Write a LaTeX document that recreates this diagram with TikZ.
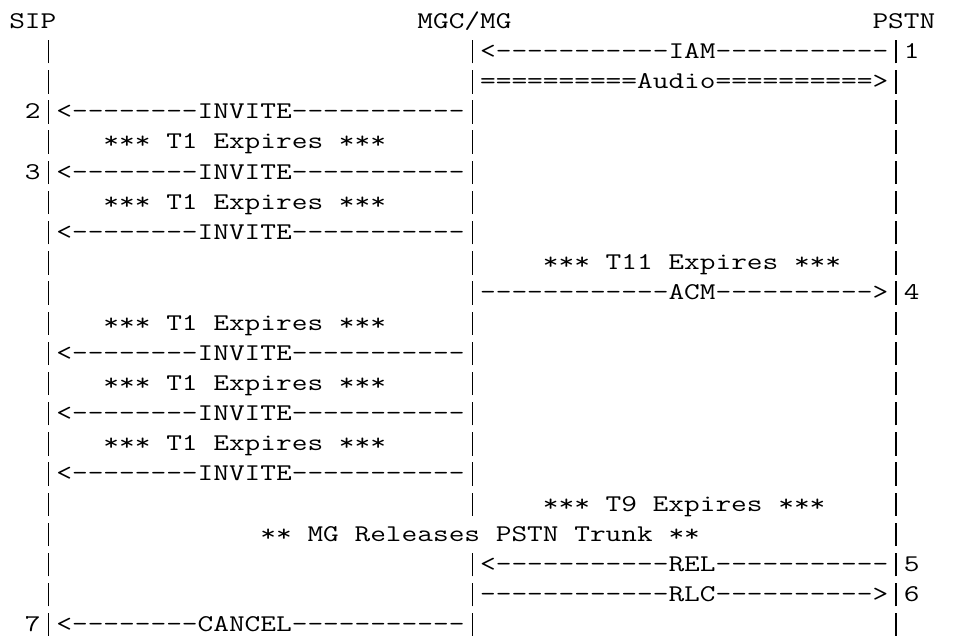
\documentclass[tikz,border=0pt]{standalone}
\usepackage{fontspec}
\setmonofont{Latin Modern Mono}
\usepackage{graphicx}
\newcommand\SP[1]{\hskip#1\fontdimen2\font\relax}
\newcommand\VB{\makebox[\fontdimen2\font]{\rule[-2.45pt]{0.5pt}{11.7pt}}}
\newcommand\rowtext[1]{\scalebox{1.26984}[1]{#1}}
\tikzset{
  row/.style={anchor=base west, inner sep=0pt, outer sep=0pt,
    font=\ttfamily\fontsize{12pt}{12pt}\selectfont, text=black}
}
\newcommand\rowat[3]{\node[row] (#1) at (9.3,{28.3+30.17*(#2-1)}) {\rowtext{#3}};}
\begin{document}
\begin{tikzpicture}[x=0.5pt,y=-0.5pt]
\fill[white] (0,0) rectangle (957,636);
\useasboundingbox (0,0) rectangle (957,636);
\rowat{l1}{1}{SIP\SP{23}MGC/MG\SP{23}PSTN}
\rowat{l2}{2}{\SP{2}\VB\SP{26}\VB<-----------IAM-----------\VB 1}
\rowat{l3}{3}{\SP{2}\VB\SP{26}\VB==========Audio==========>\VB}
\rowat{l4}{4}{\SP{1}2\VB<--------INVITE-----------\VB\SP{26}\VB}
\rowat{l5}{5}{\SP{2}\VB\SP{3}*** T1 Expires ***\SP{5}\VB\SP{26}\VB}
\rowat{l6}{6}{\SP{1}3\VB<--------INVITE-----------\VB\SP{26}\VB}
\rowat{l7}{7}{\SP{2}\VB\SP{3}*** T1 Expires ***\SP{5}\VB\SP{26}\VB}
\rowat{l8}{8}{\SP{2}\VB<--------INVITE-----------\VB\SP{26}\VB}
\rowat{l9}{9}{\SP{2}\VB\SP{26}\VB\SP{4}*** T11 Expires ***\SP{3}\VB}
\rowat{l10}{10}{\SP{2}\VB\SP{26}\VB------------ACM---------->\VB 4}
\rowat{l11}{11}{\SP{2}\VB\SP{3}*** T1 Expires ***\SP{5}\VB\SP{26}\VB}
\rowat{l12}{12}{\SP{2}\VB<--------INVITE-----------\VB\SP{26}\VB}
\rowat{l13}{13}{\SP{2}\VB\SP{3}*** T1 Expires ***\SP{5}\VB\SP{26}\VB}
\rowat{l14}{14}{\SP{2}\VB<--------INVITE-----------\VB\SP{26}\VB}
\rowat{l15}{15}{\SP{2}\VB\SP{3}*** T1 Expires ***\SP{5}\VB\SP{26}\VB}
\rowat{l16}{16}{\SP{2}\VB<--------INVITE-----------\VB\SP{26}\VB}
\rowat{l17}{17}{\SP{2}\VB\SP{26}\VB\SP{4}*** T9 Expires ***\SP{4}\VB}
\rowat{l18}{18}{\SP{2}\VB\SP{13}** MG Releases PSTN Trunk **\SP{12}\VB}
\rowat{l19}{19}{\SP{2}\VB\SP{26}\VB<-----------REL-----------\VB 5}
\rowat{l20}{20}{\SP{2}\VB\SP{26}\VB------------RLC---------->\VB 6}
\rowat{l21}{21}{\SP{1}7\VB<--------CANCEL-----------\VB\SP{26}\VB}
\end{tikzpicture}
\end{document}
